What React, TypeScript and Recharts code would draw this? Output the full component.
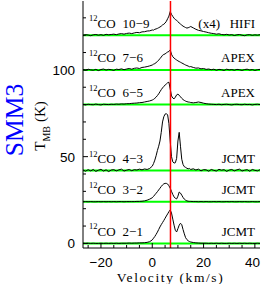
import React from "react";
import { ComposedChart, Line, XAxis, YAxis, ReferenceLine } from "recharts";

// velocity channels (km/s): coarse in the wings, 0.5 km/s across the lines
const VEL = [
  -27, -26, -25, -24, -23, -22, -21, -20, -19, -18,
  -17, -16, -15, -14, -13, -12, -11, -10, -9, -8,
  -7, -6, -5, -4, -3, -2, -1,
  0, 0.5, 1, 1.5, 2, 2.5, 3, 3.5, 4, 4.5,
  5, 5.5, 6, 6.5, 7, 7.5, 8, 8.5, 9, 9.5,
  10, 10.5, 11, 11.5, 12, 12.5, 13, 13.5, 14, 14.5,
  15, 16, 17, 18, 19, 20, 21, 22, 23, 24,
  25, 26, 27, 28, 29, 30, 31, 32, 33, 34,
  35, 36, 37, 38, 39, 40, 41, 42
];

// T_MB (K) above each baseline
const CO21 = [
  0.1, 0, 0.1, 0, 0.1, 0, 0, 0.1, 0, 0.1,
  0, 0.1, 0, 0.1, 0, 0.1, 0.1, 0.1, 0.2, 0.1,
  0.2, 0.2, 0.3, 0.3, 0.4, 0.6, 1.0,
  2.0, 3.0, 4.0, 5.2, 6.5, 8.0, 9.5, 10.8, 12.0, 13.2,
  14.5, 15.8, 17.0, 18.3, 19.3, 17.5, 14.0, 10.5, 7.5, 6.6,
  8.5, 10.5, 11.6, 10.8, 8.0, 5.5, 3.3, 2.2, 1.5, 1.1,
  0.8, 0.5, 0.3, 0.2, 0.1, 0.1, 0.1, 0, 0.1, 0,
  0.1, 0, 0.1, 0, 0, 0.1, 0, 0.1, 0, 0.1,
  0, 0.1, 0, 0.1, 0, 0, 0.1, 0
];

const CO32 = [
  0, 0.1, 0, 0.1, 0, 0, 0.1, 0, 0.1, 0,
  0.1, 0, 0.1, 0, 0.1, 0.1, 0, 0.1, 0.1, 0.1,
  0.1, 0.2, 0.2, 0.3, 0.5, 0.9, 1.5,
  2.3, 3.1, 4.0, 4.9, 5.8, 6.8, 7.8, 8.8, 9.7, 10.3,
  10.6, 10.6, 10.2, 9.2, 7.8, 6.0, 4.2, 2.8, 2.0, 1.6,
  3.2, 5.6, 5.0, 3.8, 2.5, 1.5, 0.9, 0.5, 0.3, 0.2,
  0.2, 0.1, 0.1, 0, 0.1, 0, 0.1, 0, 0, 0.1,
  0, 0.1, 0, 0, 0.1, 0, 0.1, 0, 0, 0.1,
  0, 0.1, 0, 0, 0.1, 0, 0, 0.1
];

const CO43 = [
  0.3, -0.4, 0.5, -0.2, 0.6, -0.5, 0.2, 0.7, -0.3, 0.4,
  -0.6, 0.3, 0.5, -0.2, 0.4, 0.8, -0.3, 0.2, 0.6, -0.1,
  0.5, 0.3, 0.8, 0.4, 0.9, 0.6, 1.2,
  2.5, 4.0, 6.0, 8.5, 11.5, 14.0, 17.0, 22.0, 28.0, 31.0,
  32.5, 32.8, 32.0, 27.0, 17.0, 8.0, 5.0, 4.3, 4.5, 7.0,
  17.0, 22.0, 14.0, 6.5, 3.5, 2.2, 1.8, 1.3, 1.0, 1.2,
  0.6, 1.0, 0.3, 0.8, -0.2, 0.5, 0.4, -0.4, 0.6, 0.1,
  -0.3, 0.7, 0.2, 0.5, -0.5, 0.3, 0.6, -0.2, 0.4, 0.8,
  -0.3, 0.2, 0.5, -0.4, 0.6, 0.1, -0.2, 0.5
];

const CO65 = [
  0.1, -0.2, 0.2, 0, -0.1, 0.3, 0, -0.2, 0.2, 0.1,
  0, 0.2, 0.1, 0.3, 0.2, 0.4, 0.3, 0.5, 0.5, 0.7,
  0.8, 0.9, 1.1, 1.2, 1.5, 1.8, 2.1,
  2.6, 3.0, 3.6, 4.3, 5.2, 6.2, 7.4, 8.6, 9.6, 10.5,
  11.2, 11.9, 12.6, 12.9, 9.0, 5.0, 3.8, 3.3, 4.3, 5.6,
  6.0, 5.4, 4.5, 3.6, 2.9, 2.4, 2.0, 1.7, 1.5, 1.4,
  1.2, 1.0, 1.2, 1.5, 1.2, 0.8, 0.5, 0.3, 0.2, 0.1,
  0, 0.2, -0.1, 0.1, 0.2, 0, -0.2, 0.1, 0.2, 0,
  -0.1, 0.2, 0, 0.1, -0.2, 0.1, 0.2, 0
];

const CO76 = [
  0.2, -0.3, 0.4, 0, -0.2, 0.3, -0.4, 0.2, 0.5, -0.1,
  0.3, 0.1, -0.3, 0.4, 0.2, 0.6, 0.1, 0.5, 0.8, 0.4,
  0.9, 1.1, 0.8, 1.4, 1.6, 1.9, 2.3,
  2.8, 3.3, 3.6, 4.2, 4.8, 5.6, 6.5, 7.4, 8.4, 8.9,
  9.2, 9.8, 10.3, 10.6, 11.5, 9.0, 7.6, 6.8, 6.2, 5.7,
  5.2, 4.8, 4.4, 4.0, 3.6, 3.2, 2.8, 2.5, 2.2, 1.8,
  1.9, 1.4, 1.0, 1.1, 0.6, 0.8, 0.3, 0.5, 0.1, 0.4,
  -0.2, 0.3, 0.1, -0.3, 0.4, 0, 0.2, -0.2, 0.3, 0.1,
  -0.3, 0.2, 0.4, -0.1, 0.2, -0.3, 0.1, 0.3
];

// already multiplied by 4
const CO109 = [
  -0.2, 0.3, 0.1, -0.3, 0.2, 0.4, 0, 0.3, -0.1, 0.5,
  0.2, 0.4, 0.6, 0.3, 0.7, 0.9, 0.6, 1.0, 1.2, 0.9,
  1.3, 1.6, 1.4, 1.9, 2.0, 2.4, 2.5,
  3.0, 2.9, 3.4, 3.6, 3.9, 4.3, 4.7, 5.2, 5.9, 6.3,
  7.0, 8.0, 9.5, 11.0, 13.6, 12.0, 10.8, 9.8, 9.0, 8.6,
  7.8, 7.0, 6.4, 5.8, 5.2, 4.8, 4.4, 4.1, 4.3, 4.6,
  5.0, 4.2, 3.4, 2.8, 2.5, 2.1, 1.8, 1.4, 1.1, 0.9,
  0.6, 0.8, 0.4, 0.2, 0.5, 0.1, 0.3, -0.2, 0.2, 0.4,
  0, -0.3, 0.2, 0.3, -0.1, 0.2, 0, 0.3
];

const SPECTRA = [CO21, CO32, CO43, CO65, CO76, CO109];
const OFFSETS = [0, 24, 42, 80, 100, 120];
const TRANSITIONS = ["2\u22121", "3\u22122", "4\u22123", "6\u22125", "7\u22126", "10\u22129"];
const TELESCOPES = ["JCMT", "JCMT", "JCMT", "APEX", "APEX", "HIFI"];
const SCALE_NOTES = ["", "", "", "", "", "(x4)"];
const V_LSR = 7.1;

const X_TICKS = [-25, -20, -15, -10, -5, 0, 5, 10, 15, 20, 25, 30, 35, 40];
const X_LABELS = [-20, 0, 20, 40];
const Y_TICKS = [0, 10, 20, 30, 40, 50, 60, 70, 80, 90, 100, 110, 120, 130];
const Y_LABELS = [0, 50, 100];

const SERIF = "'Liberation Serif', 'Times New Roman', serif";
const SANS = "'Liberation Sans', Arial, sans-serif";

const series = SPECTRA.map((vals, i) =>
  VEL.map((v, k) => ({ v, t: vals[k] + OFFSETS[i] }))
);

const fmt = (n: number) => (n < 0 ? `\u2212${Math.abs(n)}` : `${n}`);

const BottomTick = (props: any) => {
  const { x, y, payload } = props;
  const major = X_LABELS.includes(payload.value);
  // keep the last label inside the picture
  const tx = Math.min(x, 252.5);
  return (
    <g>
      <line x1={x} x2={x} y1={y} y2={y - (major ? 5 : 3)} stroke="#000" />
      {major && (
        <text x={tx} y={y + 18.5} textAnchor="middle" fontFamily={SANS} fontSize={13.5} fill="#000">
          {fmt(payload.value)}
        </text>
      )}
    </g>
  );
};

const TopTick = (props: any) => {
  const { x, y, payload } = props;
  const major = X_LABELS.includes(payload.value);
  return <line x1={x} x2={x} y1={y} y2={y + (major ? 5 : 3)} stroke="#000" />;
};

const LeftTick = (props: any) => {
  const { x, y, payload } = props;
  const major = Y_LABELS.includes(payload.value);
  return (
    <g>
      <line x1={x} x2={x + (major ? 5 : 3)} y1={y} y2={y} stroke="#000" />
      {major && (
        <text x={x - 8} y={y + 5} textAnchor="end" fontFamily={SANS} fontSize={13.5} fill="#000">
          {payload.value}
        </text>
      )}
    </g>
  );
};

const RightTick = (props: any) => {
  const { x, y, payload } = props;
  const major = Y_LABELS.includes(payload.value);
  return <line x1={x} x2={x - (major ? 5 : 3)} y1={y} y2={y} stroke="#000" />;
};

const BaselineLabel = (props: any) => {
  const { viewBox, index } = props;
  if (!viewBox) return null;
  const { x, y, width } = viewBox;
  const ty = y - 7.5;
  return (
    <g fontFamily={SERIF} fill="#000">
      <text x={x + 6} y={ty} fontSize={13}>
        <tspan fontSize={8.5} dy={-6.5}>12</tspan>
        <tspan dy={6.5}>CO</tspan>
        <tspan dx={7}>{TRANSITIONS[index]}</tspan>
      </text>
      {SCALE_NOTES[index] && (
        <text x={x + width - 40} y={ty} fontSize={13} textAnchor="end">
          {SCALE_NOTES[index]}
        </text>
      )}
      <text x={x + width - 5} y={ty} fontSize={13} textAnchor="end">
        {TELESCOPES[index]}
      </text>
    </g>
  );
};

const YTitle = () => (
  <g>
    <text
      x={22.8}
      y={120}
      transform="rotate(-90, 22.8, 120)"
      textAnchor="middle"
      fontFamily={SERIF}
      fontSize={25.5}
      fill="#0000ff"
    >
      SMM3
    </text>
    <text
      x={45}
      y={126}
      transform="rotate(-90, 45, 126)"
      textAnchor="middle"
      fontFamily={SERIF}
      fontSize={15}
      fill="#000"
    >
      T<tspan fontSize={10} dy={5}>MB</tspan>
      <tspan dy={-5} dx={4}>(K)</tspan>
    </text>
  </g>
);

const XTitle = (props: any) => {
  const { viewBox } = props;
  if (!viewBox) return null;
  return (
    <text
      x={viewBox.x + viewBox.width / 2 - 1}
      y={282}
      textAnchor="middle"
      fontFamily={SERIF}
      fontSize={13.5}
      letterSpacing={1.6}
      fill="#000"
    >
      Velocity (km/s)
    </text>
  );
};

const App: React.FC = () => {
  return (
    <div style={{ position: "absolute", left: 0, top: 0 }}>
      <ComposedChart width={261} height={284} margin={{ top: 1, right: 1, bottom: 0, left: 0 }}>
        <XAxis
          xAxisId="b"
          type="number"
          dataKey="v"
          domain={[-27, 42]}
          allowDataOverflow
          ticks={X_TICKS}
          interval={0}
          height={36}
          tickSize={0}
          tickMargin={0}
          tickLine={false}
          tick={<BottomTick />}
          axisLine={{ stroke: "#000" }}
          label={<XTitle />}
        />
        <XAxis
          xAxisId="t"
          orientation="top"
          type="number"
          dataKey="v"
          domain={[-27, 42]}
          allowDataOverflow
          ticks={X_TICKS}
          interval={0}
          height={0}
          tickSize={0}
          tickMargin={0}
          tickLine={false}
          tick={<TopTick />}
          axisLine={{ stroke: "#000" }}
        />
        <YAxis
          yAxisId="l"
          type="number"
          domain={[-2.65, 139.7]}
          allowDataOverflow
          ticks={Y_TICKS}
          interval={0}
          width={83}
          tickSize={0}
          tickMargin={0}
          tickLine={false}
          tick={<LeftTick />}
          axisLine={{ stroke: "#000" }}
          label={<YTitle />}
        />
        <YAxis
          yAxisId="r"
          orientation="right"
          type="number"
          domain={[-2.65, 139.7]}
          allowDataOverflow
          ticks={Y_TICKS}
          interval={0}
          width={0}
          tickSize={0}
          tickMargin={0}
          tickLine={false}
          tick={<RightTick />}
          axisLine={{ stroke: "#000" }}
        />
        {OFFSETS.map((off, i) => (
          <ReferenceLine
            key={`base-${i}`}
            xAxisId="b"
            yAxisId="l"
            y={off}
            stroke="#00ff00"
            strokeWidth={2}
            label={<BaselineLabel index={i} />}
          />
        ))}
        {series.map((d, i) => (
          <Line
            key={`spec-${i}`}
            xAxisId="b"
            yAxisId="l"
            data={d}
            dataKey="t"
            type="linear"
            stroke="#000"
            strokeWidth={1}
            dot={false}
            activeDot={false}
            isAnimationActive={false}
          />
        ))}
        <ReferenceLine xAxisId="b" yAxisId="l" x={V_LSR} stroke="#ff0000" strokeWidth={1.5} />
      </ComposedChart>
    </div>
  );
};

export default App;
